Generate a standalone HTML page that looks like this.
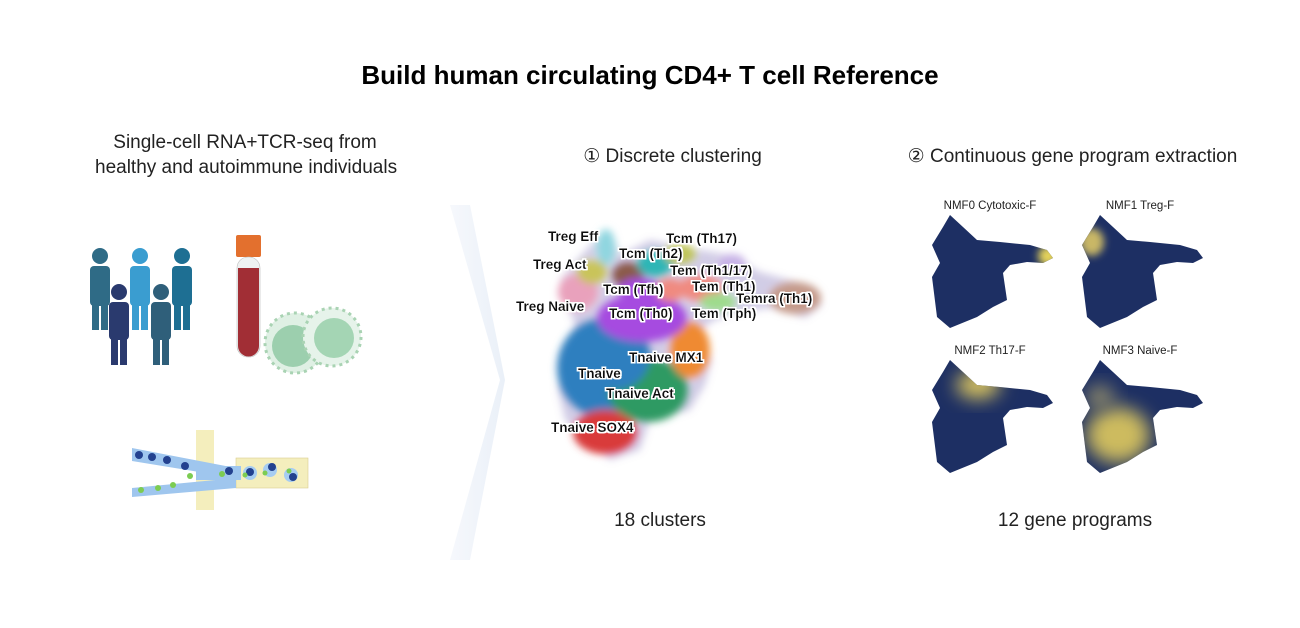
<!DOCTYPE html>
<html><head><meta charset="utf-8"><style>
html,body{margin:0;padding:0;background:#fff;width:1300px;height:628px;overflow:hidden;font-family:"Liberation Sans",Arial,sans-serif}
.t{position:absolute;white-space:nowrap;color:#111}
</style></head><body>
<div class="t" style="left:0;width:1300px;text-align:center;top:60px;font-size:26px;font-weight:bold;color:#000">Build human circulating CD4+ T cell Reference</div>
<div class="t" style="left:95px;width:300px;text-align:center;top:130px;font-size:19px;line-height:25px;color:#222">Single-cell RNA+TCR-seq from<br>healthy and autoimmune individuals</div>
<div class="t" style="left:540px;width:265px;text-align:center;top:145px;font-size:19px;color:#222">① Discrete clustering</div>
<div class="t" style="left:850px;width:445px;text-align:center;top:145px;font-size:19px;color:#222">② Continuous gene program extraction</div>
<div class="t" style="left:560px;width:200px;text-align:center;top:510px;font-size:19px;color:#222">18 clusters</div>
<div class="t" style="left:975px;width:200px;text-align:center;top:510px;font-size:19px;color:#222">12 gene programs</div>
<svg width="1300" height="628" style="position:absolute;left:0;top:0" xmlns="http://www.w3.org/2000/svg">
<defs>
<linearGradient id="chev" x1="0" x2="1"><stop offset="0" stop-color="#f6f8fc"/><stop offset="1" stop-color="#eaf0f8"/></linearGradient>
<filter id="bl" x="-50%" y="-50%" width="200%" height="200%"><feGaussianBlur stdDeviation="4"/></filter>
<filter id="bl2" x="-50%" y="-50%" width="200%" height="200%"><feGaussianBlur stdDeviation="9"/></filter>
<filter id="halo"><feMorphology operator="dilate" radius="1.5" in="SourceAlpha" result="d"/><feFlood flood-color="#fff"/><feComposite in2="d" operator="in" result="w"/><feMerge><feMergeNode in="w"/><feMergeNode in="SourceGraphic"/></feMerge></filter>
<path id="blob" d="M20,3 L33,15 L47,28 L70,30 L100,33 L117,38 L123,46 L113,51 L97,50 L80,53 L73,61 L77,88 L63,95 L47,105 L20,116 L7,105 L2,65 L10,51 L2,33 L13,15 Z"/>
<clipPath id="bc"><use href="#blob"/></clipPath>
</defs>
<path d="M450,205 L500,380 L450,560 L470,560 L505,380 L470,205Z" fill="url(#chev)"/>
<!-- people -->
<g fill="#2f6b86">
<circle cx="100" cy="256" r="8"/><rect x="90" y="266" width="20" height="40" rx="4"/><rect x="92" y="300" width="7" height="30"/><rect x="101" y="300" width="7" height="30"/>
<circle cx="182" cy="256" r="8" fill="#1e6f93"/><rect x="172" y="266" width="20" height="40" rx="4" fill="#1e6f93"/><rect x="174" y="300" width="7" height="30" fill="#1e6f93"/><rect x="183" y="300" width="7" height="30" fill="#1e6f93"/>
</g>
<g fill="#3a9dd0"><circle cx="140" cy="256" r="8"/><rect x="130" y="266" width="20" height="40" rx="4"/><rect x="132" y="300" width="7" height="30"/><rect x="141" y="300" width="7" height="30"/></g>
<g fill="#2a3a6e"><circle cx="119" cy="292" r="8"/><rect x="109" y="302" width="20" height="38" rx="4"/><rect x="111" y="334" width="7" height="31"/><rect x="120" y="334" width="7" height="31"/></g>
<g fill="#2f5f7a"><circle cx="161" cy="292" r="8"/><rect x="151" y="302" width="20" height="38" rx="4"/><rect x="153" y="334" width="7" height="31"/><rect x="162" y="334" width="7" height="31"/></g>
<!-- tube -->
<rect x="236" y="235" width="25" height="22" rx="2" fill="#e3702e"/>
<rect x="237" y="257" width="23" height="100" rx="11" fill="#eef2f2" stroke="#bbb" stroke-width="0.6"/>
<path d="M238,268 L259,268 L259,346 A10.5,10.5 0 0 1 238,346Z" fill="#a12e35"/>
<!-- cells -->
<circle cx="295" cy="343" r="30" fill="#dff0e4" stroke="#a9d3b3" stroke-width="3" stroke-dasharray="3 4"/>
<circle cx="293" cy="346" r="21" fill="#9ccfae"/>
<circle cx="332" cy="337" r="29" fill="#e6f3ea" stroke="#a9d3b3" stroke-width="3" stroke-dasharray="3 4"/>
<circle cx="334" cy="338" r="20" fill="#a4d5b4"/>
<!-- microfluidics -->
<rect x="196" y="430" width="18" height="80" fill="#f4eebd"/>
<rect x="236" y="458" width="72" height="30" fill="#f4eebd" stroke="#d9cf8f" stroke-width="0.6"/>
<path d="M132,448 L236,468 L236,478 L132,461Z M132,488 L236,478 L236,488 L132,497Z" fill="#9fc6ee"/>
<rect x="196" y="466" width="45" height="14" fill="#9fc6ee"/>
<g fill="#23418f"><circle cx="139" cy="455" r="4"/><circle cx="152" cy="457" r="4"/><circle cx="167" cy="460" r="4"/><circle cx="185" cy="466" r="4"/><circle cx="229" cy="471" r="4"/></g>
<g fill="#7ccc52"><circle cx="141" cy="490" r="3"/><circle cx="158" cy="488" r="3"/><circle cx="173" cy="485" r="3"/><circle cx="190" cy="476" r="3"/><circle cx="222" cy="474" r="3"/></g>
<g fill="#a7cdf2"><circle cx="250" cy="473" r="7"/><circle cx="270" cy="470" r="7"/><circle cx="291" cy="475" r="7"/></g>
<g fill="#23418f"><circle cx="250" cy="472" r="4"/><circle cx="272" cy="467" r="4"/><circle cx="293" cy="477" r="4"/></g>
<g fill="#7ccc52"><circle cx="245" cy="475" r="2.5"/><circle cx="265" cy="473" r="2.5"/><circle cx="289" cy="471" r="2.5"/></g>
<!-- UMAP -->
<g filter="url(#bl)">
<path d="M600,235 L612,232 L620,255 L650,240 L690,248 L730,255 L760,272 L810,285 L822,305 L805,318 L770,308 L740,312 L715,320 L700,330 L712,360 L705,385 L690,410 L650,420 L640,450 L610,460 L585,440 L565,420 L558,390 L560,350 L575,325 L565,300 L560,280 L575,262 Z" fill="#7a6fb8" opacity="0.35"/>
<ellipse cx="605" cy="368" rx="48" ry="50" fill="#2f7fbf"/>
<ellipse cx="605" cy="432" rx="32" ry="22" fill="#d93b3b"/>
<ellipse cx="648" cy="390" rx="40" ry="32" fill="#2f9a63"/>
<ellipse cx="690" cy="350" rx="20" ry="28" fill="#ef8a32"/>
<ellipse cx="615" cy="355" rx="35" ry="35" fill="#2f7fbf"/>
<ellipse cx="642" cy="318" rx="45" ry="24" fill="#a64be0"/>
<ellipse cx="578" cy="292" rx="20" ry="18" fill="#e9a1bc"/>
<ellipse cx="592" cy="272" rx="15" ry="12" fill="#c9c45a"/>
<ellipse cx="606" cy="247" rx="9" ry="18" fill="#8fd6e0"/>
<ellipse cx="628" cy="275" rx="16" ry="13" fill="#8b5a4a"/>
<ellipse cx="655" cy="264" rx="18" ry="13" fill="#2fb6b6"/>
<ellipse cx="640" cy="290" rx="22" ry="12" fill="#a64be0"/>
<ellipse cx="680" cy="254" rx="16" ry="10" fill="#bfc45a"/>
<ellipse cx="700" cy="288" rx="22" ry="13" fill="#f08a80"/>
<ellipse cx="670" cy="290" rx="14" ry="12" fill="#f08a80"/>
<ellipse cx="718" cy="302" rx="18" ry="9" fill="#9edb8c"/>
<ellipse cx="732" cy="264" rx="14" ry="10" fill="#c7b2e6"/>
<ellipse cx="795" cy="298" rx="26" ry="16" fill="#c49a8a"/>
</g>
<g font-family="Liberation Sans, Arial, sans-serif" font-weight="bold" font-size="13.5" fill="#111" filter="url(#halo)">
<text x="548" y="241">Treg Eff</text>
<text x="666" y="243">Tcm (Th17)</text>
<text x="619" y="258">Tcm (Th2)</text>
<text x="533" y="269">Treg Act</text>
<text x="670" y="275">Tem (Th1/17)</text>
<text x="692" y="291">Tem (Th1)</text>
<text x="603" y="294">Tcm (Tfh)</text>
<text x="736" y="303">Temra (Th1)</text>
<text x="516" y="311">Treg Naive</text>
<text x="609" y="318">Tcm (Th0)</text>
<text x="692" y="318">Tem (Tph)</text>
<text x="629" y="362">Tnaive MX1</text>
<text x="578" y="378">Tnaive</text>
<text x="606" y="398">Tnaive Act</text>
<text x="551" y="432">Tnaive SOX4</text>
</g>
<!-- NMF blobs -->
<g font-family="Liberation Sans, Arial, sans-serif" font-size="11.5" fill="#222">
<text x="990" y="209" text-anchor="middle">NMF0 Cytotoxic-F</text>
<text x="1140" y="209" text-anchor="middle">NMF1 Treg-F</text>
<text x="990" y="354" text-anchor="middle">NMF2 Th17-F</text>
<text x="1140" y="354" text-anchor="middle">NMF3 Naive-F</text>
</g>
<g transform="translate(930,212)"><use href="#blob" fill="#1d2f63"/><g clip-path="url(#bc)"><circle cx="118" cy="44" r="10" fill="#e5d35a" filter="url(#bl)"/></g></g>
<g transform="translate(1080,212)"><use href="#blob" fill="#1d2f63"/><g clip-path="url(#bc)"><ellipse cx="12" cy="30" rx="12" ry="14" fill="#c9b766" filter="url(#bl)"/></g></g>
<g transform="translate(930,357)"><use href="#blob" fill="#1d2f63"/><g clip-path="url(#bc)"><ellipse cx="48" cy="28" rx="22" ry="14" fill="#d8c35e" filter="url(#bl2)"/></g></g>
<g transform="translate(1080,357)"><use href="#blob" fill="#1d2f63"/><g clip-path="url(#bc)"><ellipse cx="38" cy="78" rx="32" ry="28" fill="#cdbb5e" filter="url(#bl2)"/><ellipse cx="20" cy="40" rx="14" ry="12" fill="#8f8a6a" filter="url(#bl2)"/></g></g>
</svg>
</body></html>
